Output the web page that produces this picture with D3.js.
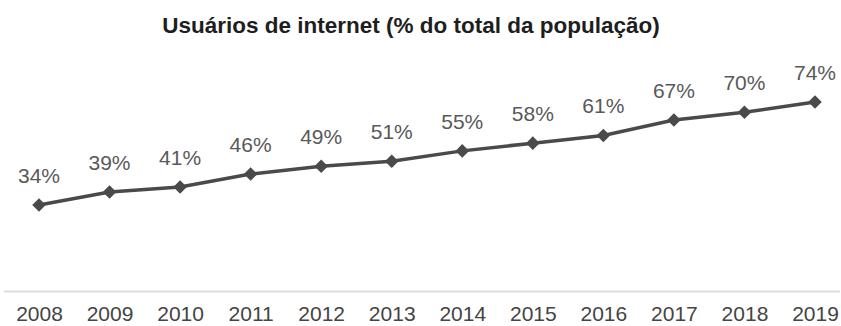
<!DOCTYPE html>
<html><head><meta charset="utf-8">
<script src="https://cdn.jsdelivr.net/npm/d3@7"></script>
<style>body{margin:0;background:#fff}</style>
</head><body>
<svg id="c" width="841" height="326"></svg>
<script>
const years = ["2008","2009","2010","2011","2012","2013","2014","2015","2016","2017","2018","2019"];
const values = [34,39,41,46,49,51,55,58,61,67,70,74];
const title = "Usuários de internet (% do total da população)";

const svg = d3.select("#c");
const x = d3.scalePoint().domain(years).range([39, 815]);
const y = d3.scaleLinear().domain([0, 100]).range([292.5, 35]);
const FF = "Liberation Sans, Arial, sans-serif";

svg.append("text").attr("x", 411).attr("y", 33).attr("text-anchor","middle")
  .attr("font-family",FF).attr("font-weight","bold")
  .attr("font-size", 22.5).attr("fill","#1e1e1e").text(title);

// baseline axis
svg.append("line").attr("x1",4).attr("x2",840).attr("y1",y(0)-1).attr("y2",y(0)-1)
  .attr("stroke","#dcdcdc").attr("stroke-width",2);

const xAxis = d3.axisBottom(x).tickSize(0).tickPadding(0);
const gx = svg.append("g").attr("transform",`translate(0,${y(0)})`).call(xAxis);
gx.select(".domain").remove();
gx.selectAll("text").attr("font-family",FF)
  .attr("font-size",21).attr("fill","#444").attr("dy",null).attr("y",28.5);

const data = years.map((yr,i)=>({yr, v: values[i]}));
svg.append("path").datum(data)
  .attr("d", d3.line().x(d=>x(d.yr)).y(d=>y(d.v)))
  .attr("fill","none").attr("stroke","#4a4a4a").attr("stroke-width",3.5);

svg.selectAll(".m").data(data).join("path").attr("class","m")
  .attr("d", d3.symbol().type(d3.symbolSquare).size(92))
  .attr("transform", d=>`translate(${x(d.yr)},${y(d.v)}) rotate(45)`)
  .attr("fill","#4a4a4a");

svg.selectAll(".lbl").data(data).join("text").attr("class","lbl")
  .attr("x", d=>x(d.yr)).attr("y", d=>y(d.v)-22)
  .attr("text-anchor","middle").attr("font-family",FF)
  .attr("font-size",21).attr("fill","#595959").text(d=>d.v+"%");
</script>
</body></html>
